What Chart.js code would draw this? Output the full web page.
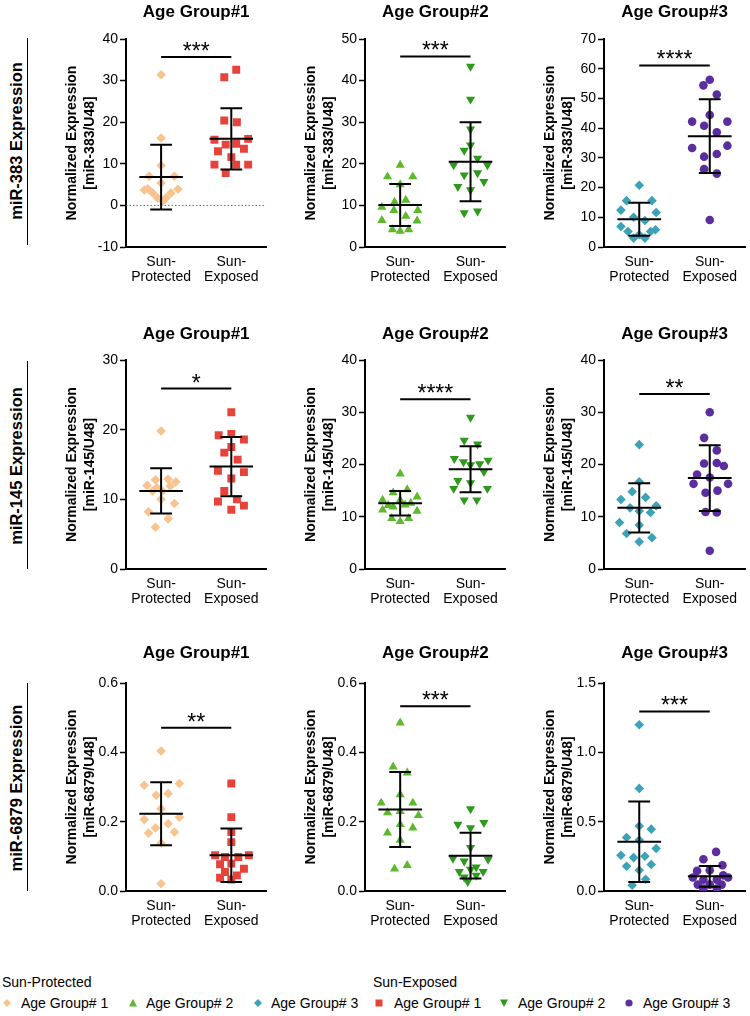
<!DOCTYPE html>
<html>
<head>
<meta charset="utf-8">
<script src="https://cdn.jsdelivr.net/npm/chart.js@4.4.1/dist/chart.umd.min.js"></script>
<style>
  html,body{margin:0;padding:0;background:#fff;}
  body{width:750px;height:1016px;position:relative;overflow:hidden;font-family:'Liberation Sans',Arial,sans-serif;color:#000;}
  canvas{position:absolute;}
  .rowlab{position:absolute;font-weight:bold;font-size:16.5px;white-space:nowrap;transform:translate(-50%,-50%) rotate(-90deg);line-height:20px;}
  .rowline{position:absolute;width:1.5px;background:#000;}
  .leg{position:absolute;font-size:14px;line-height:18px;white-space:nowrap;}
  .mk{position:absolute;}
</style>
</head>
<body>
<script>
// ---------------- DATA ----------------
const xTickLabels = [['Sun-', 'Protected'], ['Sun-', 'Exposed']];
const panelTitles = ['Age Group#1', 'Age Group#2', 'Age Group#3'];
const rowLabels = ['miR-383 Expression', 'miR-145 Expression', 'miR-6879 Expression'];
const yTitleLine1 = 'Normalized Expression';
const yTitleLine2 = ['[miR-383/U48]', '[miR-145/U48]', '[miR-6879/U48]'];
const legendHeaders = ['Sun-Protected', 'Sun-Exposed'];
const legendLabels = ['Age Group# 1', 'Age Group# 2', 'Age Group# 3'];

// y axis ranges per panel (row-major: miR-383 AG1..3, miR-145 AG1..3, miR-6879 AG1..3)
const yMins = [-10, 0, 0, 0, 0, 0, 0, 0, 0];
const yMaxs = [40, 50, 70, 30, 40, 40, 0.6, 0.6, 1.5];
const ySteps = [10, 10, 10, 10, 10, 10, 0.2, 0.2, 0.5];
const yDecimals = [0, 0, 0, 0, 0, 0, 1, 1, 1];

// miR-383
const p383g1 = [31.4, 16.2, 9.6, 7.0, 7.0, 5.4, 4.0, 3.9, 3.7, 3.0, 3.0, 1.8, 1.8, 1.0];
const p383g1Jit = [0, 0, 0, -0.17, 0.19, 0, -0.19, 0.24, -0.24, -0.12, 0.14, -0.05, 0.07, 0.02];
const e383g1 = [32.6, 30.8, 20.4, 20.0, 15.8, 16.0, 14.6, 14.8, 13.0, 13.6, 11.6, 9.8, 9.8, 9.8, 7.8];
const e383g1Jit = [0.07, -0.10, -0.10, 0.08, -0.24, 0.24, -0.08, 0.07, -0.19, 0.18, 0, -0.24, 0.07, 0.24, -0.08];
const p383g2 = [19.7, 16.9, 16.9, 15.0, 11.3, 10.8, 9.6, 8.8, 8.8, 7.4, 6.4, 6.3, 4.2, 3.8, 4.2];
const p383g2Jit = [0, -0.18, 0.18, 0, 0.08, -0.08, -0.26, -0.09, 0.25, 0.08, -0.26, 0.24, -0.11, 0, 0.12];
const e383g2 = [43.4, 35.5, 28.3, 24.5, 23.2, 21.3, 19.7, 19.7, 17.3, 17.8, 15.7, 14.5, 13.7, 8.2, 8.6];
const e383g2Jit = [0, 0, 0, 0, -0.09, 0.10, -0.24, 0.24, -0.09, 0.10, 0.19, -0.18, 0, -0.09, 0.10];
const p383g3 = [20.8, 15.6, 15.6, 12.4, 11.6, 10.0, 8.9, 6.9, 5.8, 5.2, 5.2, 4.1, 3.0, 3.0];
const p383g3Jit = [0, -0.18, 0.18, -0.26, 0.24, -0.08, 0.08, -0.26, 0.23, -0.16, 0.16, 0, -0.08, 0.08];
const e383g3 = [56.3, 54.4, 51.3, 44.4, 42.2, 42.2, 40.8, 38.6, 33.3, 34.1, 30.4, 31.3, 26.2, 24.7, 9.1];
const e383g3Jit = [0, -0.09, 0.10, 0, -0.25, 0.25, -0.08, 0.10, -0.25, 0.25, -0.08, 0.10, -0.08, 0.10, 0];
// miR-145
const p145g1 = [19.8, 12.8, 12.9, 12.0, 12.5, 11.7, 11.2, 11.9, 11.2, 10.0, 9.4, 8.2, 7.2, 6.0];
const p145g1Jit = [0, -0.08, 0.10, -0.20, 0.21, -0.06, -0.12, 0.13, 0.02, 0, 0.19, -0.18, 0.10, -0.08];
const e145g1 = [22.5, 19.2, 19.4, 18.6, 17.5, 16.7, 15.7, 14.1, 13.9, 13.0, 11.2, 9.7, 10.0, 9.1, 8.5];
const e145g1Jit = [0, -0.18, 0, 0.18, 0, -0.10, 0.09, -0.19, 0.18, 0, -0.10, -0.19, 0.08, 0.18, 0];
const p145g2 = [18.2, 14.6, 15.2, 13.2, 13.8, 13.2, 12.6, 11.9, 12.3, 11.3, 11.1, 9.7, 9.7, 9.1, 12.2];
const p145g2Jit = [0, -0.10, 0.10, -0.25, 0.24, 0, 0.15, -0.10, 0.07, -0.25, 0.24, -0.12, 0.12, 0, -0.17];
const e145g2 = [29.0, 24.6, 23.9, 21.1, 20.8, 20.5, 19.9, 20.1, 18.6, 16.9, 16.5, 15.4, 15.4, 13.2, 13.2];
const e145g2Jit = [0, -0.09, 0.10, -0.23, 0.25, -0.10, 0, 0.13, 0.19, -0.18, 0, -0.24, 0.24, -0.09, 0.09];
const p145g3 = [23.8, 16.7, 14.8, 13.3, 13.7, 11.7, 12.1, 11.1, 10.8, 8.9, 8.4, 6.8, 6.0, 5.2];
const p145g3Jit = [0, 0, -0.10, -0.26, 0.09, -0.13, 0.24, 0, 0.16, -0.28, 0, -0.18, 0.18, 0];
const e145g3 = [30.0, 25.1, 22.7, 20.2, 20.3, 19.7, 18.1, 17.5, 16.3, 16.3, 14.6, 15.0, 10.9, 10.8, 3.5];
const e145g3Jit = [0, -0.08, 0.10, -0.08, 0.10, 0.20, -0.18, 0, -0.23, 0.26, -0.06, 0.11, -0.06, 0.10, 0];
// miR-6879
const p6879g1 = [0.404, 0.305, 0.310, 0.276, 0.281, 0.237, 0.206, 0.213, 0.182, 0.194, 0.167, 0.170, 0.138, 0.021];
const p6879g1Jit = [0, -0.24, 0.26, -0.07, 0.10, 0, -0.24, 0.26, -0.08, 0.10, -0.18, 0.19, 0, 0];
const e6879g1 = [0.310, 0.213, 0.170, 0.141, 0.103, 0.103, 0.098, 0.098, 0.077, 0.079, 0.064, 0.055, 0.038, 0.045, 0.033];
const e6879g1Jit = [0, 0, 0, 0, -0.23, 0.25, -0.09, 0.10, -0.16, 0, 0.18, -0.09, -0.16, 0.08, 0];
const p6879g2 = [0.485, 0.358, 0.341, 0.278, 0.254, 0.254, 0.226, 0.230, 0.218, 0.192, 0.182, 0.168, 0.147, 0.074, 0.064];
const p6879g2Jit = [0, -0.10, 0.10, 0, -0.27, 0.18, -0.18, 0, 0.26, 0, 0.18, -0.18, 0, 0.10, -0.08];
const e6879g2 = [0.237, 0.192, 0.197, 0.182, 0.125, 0.094, 0.091, 0.086, 0.069, 0.056, 0.056, 0.062, 0.040, 0.045, 0.027];
const e6879g2Jit = [0, -0.18, 0.19, 0, 0, -0.25, 0.25, -0.09, 0.08, -0.16, 0.18, 0, -0.09, 0.08, -0.04];
const p6879g3 = [1.199, 0.740, 0.468, 0.446, 0.386, 0.367, 0.306, 0.258, 0.241, 0.251, 0.179, 0.191, 0.150, 0.085, 0.041];
const p6879g3Jit = [0, 0, 0, 0.17, -0.18, 0, 0.24, -0.26, -0.08, 0.08, -0.18, 0.17, 0, 0.09, -0.10];
const e6879g3 = [0.282, 0.229, 0.186, 0.145, 0.150, 0.113, 0.097, 0.097, 0.082, 0.082, 0.046, 0.046, 0.046, 0.017, 0.017];
const e6879g3Jit = [0.09, -0.09, 0.18, -0.18, 0, 0.19, -0.24, 0.26, -0.09, 0.10, -0.17, 0, 0.17, -0.09, 0.10];

// mean and SD as drawn
const protectedMeans = [6.8, 10.1, 9.3, 11.2, 12.6, 11.7, 0.223, 0.235, 0.355];
const protectedSDs = [7.8, 5.05, 5.55, 3.25, 2.35, 4.7, 0.091, 0.108, 0.29];
const exposedMeans = [16.0, 20.5, 37.3, 14.7, 19.1, 17.4, 0.103, 0.102, 0.106];
const exposedSDs = [7.35, 9.5, 12.4, 4.25, 4.4, 6.3, 0.077, 0.066, 0.075];
const sigLevels = [35.7, 45.8, 61.1, 25.9, 32.5, 33.5, 0.471, 0.533, 1.295];
const sigStars = ['***', '***', '****', '*', '****', '**', '**', '***', '***'];

const protectedSeries = [p383g1, p383g2, p383g3, p145g1, p145g2, p145g3, p6879g1, p6879g2, p6879g3];
const protectedJitter = [p383g1Jit, p383g2Jit, p383g3Jit, p145g1Jit, p145g2Jit, p145g3Jit, p6879g1Jit, p6879g2Jit, p6879g3Jit];
const exposedSeries = [e383g1, e383g2, e383g3, e145g1, e145g2, e145g3, e6879g1, e6879g2, e6879g3];
const exposedJitter = [e383g1Jit, e383g2Jit, e383g3Jit, e145g1Jit, e145g2Jit, e145g3Jit, e6879g1Jit, e6879g2Jit, e6879g3Jit];

// ---------------- STYLE / LAYOUT ----------------
const FONT = "'Liberation Sans', Arial, Helvetica, sans-serif";
const protColors = ['#F8C38F', '#5DB92C', '#3AA3B6'];
const expColors = ['#E8433B', '#2E9A1C', '#5B2E9F'];
const protStyles = [{s: 'rectRot', r: 4.8, rot: 0}, {s: 'triangle', r: 5.3, rot: 0}, {s: 'rectRot', r: 4.8, rot: 0}];
const expStyles = [{s: 'rect', r: 5.6, rot: 0}, {s: 'triangle', r: 5.3, rot: 180}, {s: 'circle', r: 4.3, rot: 0}];

const axisX = [126, 365, 604];
const axisTop = [39, 360, 683];
const axisBottom = [247, 569, 891];
const titleCY = [12, 334, 653];
const AXW = 80, PLOTW = 141, PADR = 5, XAXH = 45;

Chart.defaults.font.family = FONT;
Chart.defaults.color = '#000';

const starsPlugin = {
  id: 'stars',
  afterDatasetsDraw(chart, args, opts) {
    const {ctx} = chart; const x = chart.scales.x, y = chart.scales.y;
    ctx.save();
    ctx.font = '23px ' + FONT;
    ctx.fillStyle = '#000';
    ctx.textAlign = 'center';
    ctx.textBaseline = 'alphabetic';
    ctx.fillText(opts.text, x.getPixelForValue(0.5), y.getPixelForValue(opts.value) + 2);
    ctx.restore();
  }
};

function errBar(c, m, s) {
  return [
    {x: c - 0.31, y: m}, {x: c + 0.31, y: m}, {x: c, y: null},
    {x: c - 0.155, y: m + s}, {x: c + 0.155, y: m + s}, {x: c, y: null},
    {x: c - 0.155, y: m - s}, {x: c + 0.155, y: m - s}, {x: c, y: null},
    {x: c, y: m + s}, {x: c, y: m - s}
  ];
}
function pts(vals, jit, c) { return vals.map((v, i) => ({x: c + jit[i], y: v})); }

function makePanel(r, c) {
  const k = r * 3 + c;
  const cv = document.createElement('canvas');
  const top = Math.round(titleCY[r] - 12.2);
  const left = axisX[c] - AXW;
  const W = AXW + PLOTW + PADR;
  const H = axisBottom[r] - top + XAXH;
  cv.width = W; cv.height = H;
  cv.style.left = left + 'px'; cv.style.top = top + 'px';
  cv.style.width = W + 'px'; cv.style.height = H + 'px';
  document.body.appendChild(cv);

  const datasets = [
    {data: errBar(0, protectedMeans[k], protectedSDs[k]), showLine: true, borderColor: '#000', borderWidth: 2, pointRadius: 0, spanGaps: false, order: 0, borderCapStyle: 'butt'},
    {data: errBar(1, exposedMeans[k], exposedSDs[k]), showLine: true, borderColor: '#000', borderWidth: 2, pointRadius: 0, spanGaps: false, order: 0, borderCapStyle: 'butt'},
    {data: [{x: 0, y: sigLevels[k]}, {x: 1, y: sigLevels[k]}], showLine: true, borderColor: '#000', borderWidth: 2, pointRadius: 0, order: 0},
    {data: pts(protectedSeries[k], protectedJitter[k], 0), pointStyle: protStyles[c].s, pointRadius: protStyles[c].r, pointRotation: protStyles[c].rot,
     backgroundColor: protColors[c], borderWidth: 0, order: 1},
    {data: pts(exposedSeries[k], exposedJitter[k], 1), pointStyle: expStyles[c].s, pointRadius: expStyles[c].r, pointRotation: expStyles[c].rot,
     backgroundColor: expColors[c], borderWidth: 0, order: 1}
  ];
  if (yMins[k] < 0) {
    datasets.push({data: [{x: -0.5, y: 0}, {x: 1.5, y: 0}], showLine: true, borderColor: '#666', borderWidth: 1, borderDash: [1.5, 2], pointRadius: 0, order: 2});
  }

  new Chart(cv, {
    type: 'scatter',
    data: {datasets},
    plugins: [starsPlugin],
    options: {
      responsive: false, animation: false, devicePixelRatio: 1,
      layout: {padding: {left: 0, right: PADR, top: 0, bottom: 0}},
      plugins: {
        legend: {display: false}, tooltip: {enabled: false},
        title: {display: true, text: panelTitles[c], fullSize: false, color: '#000',
          font: {size: 17, weight: 'bold', lineHeight: 1.2},
          padding: {top: 2, bottom: axisTop[r] - top - 22.4}},
        stars: {text: sigStars[k], value: sigLevels[k]}
      },
      scales: {
        x: {
          type: 'linear', min: -0.5, max: 1.5,
          afterBuildTicks: s => { s.ticks = [{value: 0}, {value: 1}]; },
          ticks: {callback: (v, i) => xTickLabels[i], font: {size: 14, lineHeight: 1.1}, color: '#000', padding: 7, maxRotation: 0, autoSkip: false},
          grid: {display: false, drawTicks: false},
          border: {display: true, color: '#000', width: 2},
          afterFit: s => { s.height = XAXH; }
        },
        y: {
          min: yMins[k], max: yMaxs[k],
          ticks: {stepSize: ySteps[k], callback: v => Number(v).toFixed(yDecimals[k]), font: {size: 14}, color: '#000', padding: 2},
          grid: {display: true, drawOnChartArea: false, drawTicks: true, tickLength: 6, tickColor: '#000', tickWidth: 1.5},
          border: {display: true, color: '#000', width: 2},
          title: {display: true, text: [yTitleLine1, yTitleLine2[r]], color: '#000',
            font: {size: 14, weight: 'bold', lineHeight: 18 / 14}, padding: {top: 17, bottom: 0}},
          afterFit: s => { s.width = AXW; }
        }
      }
    }
  });
}

for (let r = 0; r < 3; r++) for (let c = 0; c < 3; c++) makePanel(r, c);

// row labels and separators
const rowLabelCY = [141, 466, 788];
const rowLineTop = [38, 361, 683];
const rowLineBot = [245, 569, 891];
for (let r = 0; r < 3; r++) {
  const d = document.createElement('div');
  d.className = 'rowlab'; d.textContent = rowLabels[r];
  d.style.left = '15.5px'; d.style.top = rowLabelCY[r] + 'px';
  document.body.appendChild(d);
  const l = document.createElement('div');
  l.className = 'rowline';
  l.style.left = '26.5px'; l.style.top = rowLineTop[r] + 'px'; l.style.height = (rowLineBot[r] - rowLineTop[r]) + 'px';
  document.body.appendChild(l);
}

// legend
function marker(shape, color, cx, cy) {
  const ns = 'http://www.w3.org/2000/svg';
  const svg = document.createElementNS(ns, 'svg');
  svg.setAttribute('width', 12); svg.setAttribute('height', 12);
  svg.setAttribute('class', 'mk');
  svg.style.left = (cx - 6) + 'px'; svg.style.top = (cy - 6) + 'px';
  let el;
  if (shape === 'diamond') { el = document.createElementNS(ns, 'polygon'); el.setAttribute('points', '6,2 10,6 6,10 2,6'); }
  else if (shape === 'up') { el = document.createElementNS(ns, 'polygon'); el.setAttribute('points', '6,2 10,9.5 2,9.5'); }
  else if (shape === 'down') { el = document.createElementNS(ns, 'polygon'); el.setAttribute('points', '2,2.5 10,2.5 6,10'); }
  else if (shape === 'square') { el = document.createElementNS(ns, 'rect'); el.setAttribute('x', 2.5); el.setAttribute('y', 2.5); el.setAttribute('width', 7); el.setAttribute('height', 7); }
  else { el = document.createElementNS(ns, 'circle'); el.setAttribute('cx', 6); el.setAttribute('cy', 6); el.setAttribute('r', 3.6); }
  el.setAttribute('fill', color);
  svg.appendChild(el);
  document.body.appendChild(svg);
}
function legText(t, x, cy) {
  const d = document.createElement('div');
  d.className = 'leg'; d.textContent = t;
  d.style.left = x + 'px'; d.style.top = (cy - 9) + 'px';
  document.body.appendChild(d);
}
legText(legendHeaders[0], 2, 982);
legText(legendHeaders[1], 373, 982);
const legShapes = ['diamond', 'up', 'diamond', 'square', 'down', 'circle'];
const legColors = protColors.concat(expColors);
const legMarkX = [7, 133, 258, 379, 504, 629];
const legTextX = [21, 146, 271, 394, 518, 643];
for (let i = 0; i < 6; i++) {
  marker(legShapes[i], legColors[i], legMarkX[i], 1003);
  legText(legendLabels[i % 3], legTextX[i], 1003);
}
</script>
</body>
</html>
